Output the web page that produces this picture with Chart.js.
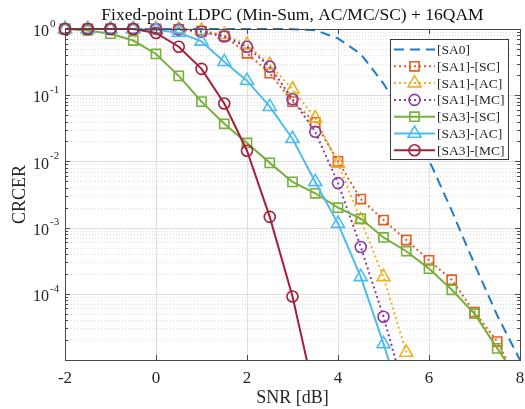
<!DOCTYPE html>
<html>
<head>
<meta charset="utf-8">
<script src="https://cdn.jsdelivr.net/npm/chart.js@4.4.1/dist/chart.umd.min.js"></script>
<style>
  html, body { margin: 0; padding: 0; background: #fff; }
  #wrap { width: 525px; height: 409px; }
</style>
</head>
<body>
<div id="wrap"><canvas id="chart"></canvas></div>
<script>
// SNR points, 0.5 dB step
const snr = [-2, -1.5, -1, -0.5, 0, 0.5, 1, 1.5, 2, 2.5, 3, 3.5, 4, 4.5, 5, 5.5, 6, 6.5, 7, 7.5, 8];

// CRCER per scheme
const sa0    = [1, 1, 1, 1, 1, 1, 1, 1, 1, 1, 0.995, 0.96, 0.72, 0.42, 0.15, 0.04, 0.0105, 0.0018, 0.00028, 4.7e-5, 1e-5];
const sa1Sc  = [1, 1, 1, 1, 1, 0.99, 0.93, 0.78, 0.43, 0.215, 0.08, 0.039, 0.01, 0.0027, 0.0013, 0.00065, 0.00032, 0.000163, 5.3e-5, 1.9e-5, 4e-6];
const sa1Ac  = [1, 1, 1, 1, 1, 1, 0.95, 0.82, 0.58, 0.29, 0.123, 0.045, 0.0093, 0.0013, 0.00018, 1.3e-5, null, null, null, null, null];
const sa1Mc  = [1, 1, 1, 1, 1, 0.98, 0.91, 0.77, 0.54, 0.27, 0.087, 0.028, 0.0047, 0.00051, 4.5e-5, 2.7e-6, null, null, null, null, null];
const sa3Sc  = [1, 0.95, 0.85, 0.67, 0.42, 0.196, 0.08, 0.037, 0.019, 0.0095, 0.0049, 0.0033, 0.002, 0.00137, 0.00071, 0.00044, 0.00024, 0.000115, 5e-5, 1.5e-5, 4.6e-6];
const sa3Ac  = [1, 1, 1, 1, 0.97, 0.88, 0.65, 0.32, 0.166, 0.067, 0.022, 0.0049, 0.00115, 0.00018, 1.75e-5, 1.5e-6, null, null, null, null, null];
const sa3Mc  = [1, 1, 1, 1, 0.87, 0.54, 0.25, 0.075, 0.0145, 0.00145, 9.1e-5, 2.7e-6, null, null, null, null, null, null, null, null, null];

const seriesNames = ['[SA0]', '[SA1]-[SC]', '[SA1]-[AC]', '[SA1]-[MC]', '[SA3]-[SC]', '[SA3]-[AC]', '[SA3]-[MC]'];
const xTicks = [-2, 0, 2, 4, 6, 8];
const yDecades = [1e-4, 1e-3, 1e-2, 1e-1, 1];
const titleText = 'Fixed-point LDPC (Min-Sum, AC/MC/SC) + 16QAM';

const SERIF = '"Liberation Serif", "Times New Roman", serif';
const INK = '#262626';

const pts = arr => arr.map((v, i) => ({ x: snr[i], y: v }));

function ds(label, data, color, dash, style, r) {
  return {
    label, data: pts(data),
    borderColor: color, backgroundColor: 'rgba(0,0,0,0)',
    borderWidth: 2, borderDash: dash,
    pointStyle: style, pointRadius: r, pointHoverRadius: r,
    pointBorderColor: color, pointBackgroundColor: 'rgba(0,0,0,0)', pointBorderWidth: 1.6,
    tension: 0, spanGaps: false,
    clip: { left: 12, top: 12, right: 12, bottom: 0 },
  };
}

const datasets = [
  ds(seriesNames[0], sa0,   '#1f7cc6', [10, 6], false, 0),
  ds(seriesNames[1], sa1Sc, '#e45b24', [2, 3], 'rect', 6.5),
  ds(seriesNames[2], sa1Ac, '#f0b020', [2, 3], 'triangle', 7.5),
  ds(seriesNames[3], sa1Mc, '#8b3a9e', [2, 3], 'circle', 5.5),
  ds(seriesNames[4], sa3Sc, '#77b03a', [], 'rect', 6.5),
  ds(seriesNames[5], sa3Ac, '#4dbdee', [], 'triangle', 7.5),
  ds(seriesNames[6], sa3Mc, '#a61e3a', [], 'circle', 5.5),
];
// later series on top, like the original plot
datasets.forEach((d, i) => { d.order = datasets.length - i; });

// grid lines, inner ticks, box, y labels, title and legend
const matlabAxes = {
  id: 'matlabAxes',
  beforeDatasetsDraw(chart) {
    const { ctx, chartArea: a, scales: { x, y } } = chart;
    ctx.save();
    ctx.lineWidth = 1;
    // minor y grid (dotted)
    ctx.strokeStyle = 'rgba(0,0,0,0.13)';
    ctx.setLineDash([1, 2]);
    for (let e = -5; e < 0; e++) {
      for (let m = 2; m <= 9; m++) {
        const py = Math.round(y.getPixelForValue(m * Math.pow(10, e))) + 0.5;
        if (py < a.top || py > a.bottom) continue;
        ctx.beginPath(); ctx.moveTo(a.left, py); ctx.lineTo(a.right, py); ctx.stroke();
      }
    }
    // major grid
    ctx.setLineDash([]);
    ctx.strokeStyle = '#dedede';
    yDecades.forEach(v => {
      const py = Math.round(y.getPixelForValue(v)) + 0.5;
      ctx.beginPath(); ctx.moveTo(a.left, py); ctx.lineTo(a.right, py); ctx.stroke();
    });
    xTicks.forEach(v => {
      const px = Math.round(x.getPixelForValue(v)) + 0.5;
      ctx.beginPath(); ctx.moveTo(px, a.top); ctx.lineTo(px, a.bottom); ctx.stroke();
    });
    ctx.restore();
  },
  afterDatasetsDraw(chart) {
    const { ctx, chartArea: a, scales: { x, y } } = chart;
    ctx.save();
    ctx.strokeStyle = '#4a4a4a';
    ctx.lineWidth = 1;
    ctx.strokeRect(Math.round(a.left) + 0.5, Math.round(a.top) + 0.5, Math.round(a.right - a.left), Math.round(a.bottom - a.top));
    // inner tick marks
    ctx.beginPath();
    xTicks.forEach(v => {
      const px = Math.round(x.getPixelForValue(v)) + 0.5;
      ctx.moveTo(px, a.bottom); ctx.lineTo(px, a.bottom - 5);
      ctx.moveTo(px, a.top); ctx.lineTo(px, a.top + 5);
    });
    for (let e = -5; e <= 0; e++) {
      for (let m = 1; m <= 9; m++) {
        const v = m * Math.pow(10, e);
        if (v > 1) continue;
        const py = Math.round(y.getPixelForValue(v)) + 0.5;
        if (py < a.top - 1 || py > a.bottom) continue;
        const len = m === 1 ? 5 : 3;
        ctx.moveTo(a.left, py); ctx.lineTo(a.left + len, py);
        ctx.moveTo(a.right, py); ctx.lineTo(a.right - len, py);
      }
    }
    ctx.stroke();

    // y tick labels 10^n
    ctx.fillStyle = INK;
    yDecades.forEach(v => {
      const py = y.getPixelForValue(v);
      const exp = String(Math.round(Math.log10(v)));
      ctx.font = '16px ' + SERIF;
      ctx.textAlign = 'right'; ctx.textBaseline = 'middle';
      ctx.fillText('10', 49, py + 3);
      ctx.font = '11px ' + SERIF;
      ctx.textAlign = 'left';
      ctx.fillText(exp, 50, py - 5);
    });

    // title, centred over the plot box
    ctx.fillStyle = '#111';
    ctx.font = '17.5px ' + SERIF;
    ctx.textAlign = 'center'; ctx.textBaseline = 'middle';
    ctx.fillText(titleText, (a.left + a.right) / 2, 15);
    ctx.restore();
  },
  afterDraw(chart) {
    const { ctx } = chart;
    const box = { left: 390.5, top: 39.5, w: 118, h: 120 };
    ctx.save();
    ctx.fillStyle = '#fff';
    ctx.fillRect(box.left, box.top, box.w, box.h);
    ctx.strokeStyle = '#3a3a3a';
    ctx.lineWidth = 1;
    ctx.strokeRect(box.left, box.top, box.w, box.h);
    const rowH = 16.8;
    chart.data.datasets.forEach((d, i) => {
      const cy = 49.5 + i * rowH;
      ctx.strokeStyle = d.borderColor;
      ctx.lineWidth = d.borderWidth;
      ctx.setLineDash(d.borderDash);
      ctx.beginPath(); ctx.moveTo(394, cy); ctx.lineTo(435, cy); ctx.stroke();
      ctx.setLineDash([]);
      if (d.pointStyle) {
        ctx.fillStyle = 'rgba(0,0,0,0)';
        ctx.lineWidth = d.pointBorderWidth;
        Chart.helpers.drawPoint(ctx, { pointStyle: d.pointStyle, radius: d.pointRadius, rotation: 0, borderWidth: d.pointBorderWidth }, 414.5, cy);
      }
      ctx.fillStyle = INK;
      ctx.font = '13.5px ' + SERIF;
      ctx.textAlign = 'left'; ctx.textBaseline = 'middle';
      ctx.fillText(d.label, 437, cy + 1);
    });
    ctx.restore();
  }
};

new Chart(document.getElementById('chart'), {
  type: 'line',
  data: { datasets },
  options: {
    responsive: true,
    maintainAspectRatio: false,
    animation: false,
    devicePixelRatio: 1,
    layout: { autoPadding: false, padding: { left: 0, right: 0, top: 29, bottom: 0 } },
    plugins: {
      legend: { display: false },
      tooltip: { enabled: false },
      title: { display: false },
    },
    scales: {
      x: {
        type: 'linear',
        min: -2, max: 8,
        afterBuildTicks: s => { s.ticks = xTicks.map(v => ({ value: v })); },
        afterFit: s => { s.height = 49; s.paddingLeft = 0; s.paddingRight = 5; },
        grid: { display: false, drawTicks: false },
        border: { display: false },
        ticks: { color: INK, font: { family: SERIF, size: 17 }, padding: 8, maxRotation: 0 },
        title: { display: true, text: 'SNR [dB]', color: INK, font: { family: SERIF, size: 18 }, padding: { top: 0, bottom: 0 } },
      },
      y: {
        type: 'logarithmic',
        min: 1e-5, max: 1,
        afterBuildTicks: s => { s.ticks = yDecades.map(v => ({ value: v })); },
        afterFit: s => { s.width = 65; s.paddingTop = 0; s.paddingBottom = 0; },
        grid: { display: false, drawTicks: false },
        border: { display: false },
        ticks: { display: false },
        title: { display: true, text: 'CRCER', color: INK, font: { family: SERIF, size: 18 }, padding: { top: 9, bottom: 0 } },
      },
    },
  },
  plugins: [matlabAxes],
});
</script>
</body>
</html>
